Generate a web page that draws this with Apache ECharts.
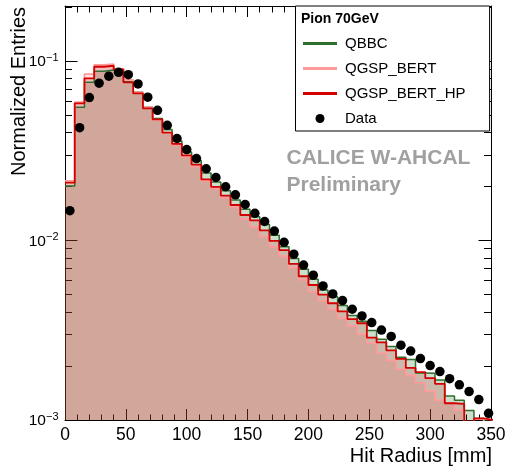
<!DOCTYPE html>
<html><head><meta charset="utf-8">
<script src="https://cdn.jsdelivr.net/npm/echarts@6/dist/echarts.min.js"></script>
<style>html,body{margin:0;padding:0;background:#fff}#c{width:507px;height:470px}</style>
</head><body><div id="c"></div><script>
const binCenters = [4,12,20,28,36,44,52,60,68,76,84,92,100,108,116,124,132,140,148,156,164,172,180,188,196,204,212,220,228,236,244,252,260,268,276,284,292,300,308,316,324,332,340,348];
const binWidth = 8;
const qbbc = [0.0201,0.0552,0.0761,0.0876,0.0891,0.0883,0.0767,0.0669,0.0552,0.0479,0.0415,0.0358,0.0311,0.0278,0.0238,0.0212,0.01894,0.01681,0.01492,0.01357,0.01228,0.01069,0.00924,0.00794,0.00691,0.00608,0.00530,0.00486,0.00434,0.00382,0.00355,0.00315,0.00282,0.00257,0.00224,0.00217,0.00183,0.00182,0.00167,0.00136,0.00129,0.00113,0.00102,0.00095];
const qgspBert = [0.0215,0.0589,0.0846,0.0950,0.0962,0.0903,0.0784,0.0669,0.0552,0.0469,0.0396,0.0340,0.0293,0.0258,0.0215,0.01953,0.01731,0.01531,0.01318,0.01189,0.01050,0.00924,0.00817,0.00705,0.00606,0.00519,0.00461,0.00414,0.00370,0.00334,0.00301,0.00268,0.00236,0.00215,0.00192,0.00177,0.00161,0.00145,0.00129,0.00124,0.00114,0.00090,0.00101,0.00090];
const qgspBertHp = [0.0210,0.0581,0.0801,0.0929,0.0941,0.0897,0.0761,0.0661,0.0545,0.0473,0.0399,0.0345,0.0298,0.0265,0.0219,0.0199,0.01777,0.01577,0.01387,0.01296,0.01140,0.00994,0.00885,0.00740,0.00632,0.00565,0.00500,0.00447,0.00403,0.00365,0.00346,0.00288,0.00271,0.00244,0.00219,0.00195,0.00185,0.00171,0.00159,0.00124,0.00123,0.00090,0.00102,0.00100];
const dataVals = [0.01466,0.0425,0.0626,0.0752,0.0823,0.0865,0.0839,0.0745,0.0629,0.0531,0.0438,0.0370,0.0321,0.0286,0.0251,0.02244,0.01993,0.01797,0.01587,0.01417,0.01276,0.01128,0.00977,0.00839,0.00730,0.00641,0.00558,0.00504,0.00463,0.00414,0.00380,0.00349,0.00317,0.00292,0.00261,0.00242,0.00220,0.00201,0.00186,0.00170,0.00157,0.00144,0.00130,0.00109];
const seriesNames = ['QBBC','QGSP_BERT','QGSP_BERT_HP','Data'];
const legendTitle = 'Pion 70GeV';
const xName = 'Hit Radius [mm]';
const yName = 'Normalized Entries';
const watermark = ['CALICE W-AHCAL','Preliminary'];

const FONT = '"Liberation Sans", Arial, Helvetica, sans-serif';
function stepData(vals){
  const out = binCenters.map((c,i)=>[c-binWidth/2, vals[i]]);
  out.push([binCenters[binCenters.length-1]+binWidth/2, vals[vals.length-1]]);
  return out;
}
const lineIcon = 'path://M0,0H34V3H0Z';
const colors = {
  qbbcLine:'#2e6e2e', qbbcFill:'rgba(5,90,5,0.2)',
  bertLine:'#ff9a9a', bertFill:'rgba(255,102,102,0.19)',
  hpLine:'#d40000', hpFill:'rgba(192,0,0,0.16)'
};
function yLabel(v){
  const e = Math.log10(v); const r = Math.round(e);
  if (Math.abs(e-r) > 1e-6) return '';
  return '{b|10}{s|' + (r<0?'\u2212':'') + Math.abs(r) + '}';
}
const xAxisBase = {type:'value', min:0, max:350, interval:50,
  axisLine:{show:true, onZero:false, lineStyle:{color:'#000', width:1}},
  axisTick:{show:true, inside:true, length:11, lineStyle:{color:'#000'}},
  minorTick:{show:true, splitNumber:5, length:5.5, lineStyle:{color:'#000'}},
  splitLine:{show:false}};
const yAxisBase = {type:'log', logBase:10, min:0.001, max:0.2025,
  axisLine:{show:true, onZero:false, lineStyle:{color:'#000', width:1}},
  axisTick:{show:true, inside:true, length:12.5, lineStyle:{color:'#000'}},
  minorTick:{show:true, splitNumber:9, length:7, lineStyle:{color:'#000'}},
  splitLine:{show:false}};

const chart = echarts.init(document.getElementById('c'), null, {renderer:'canvas'});
chart.setOption({
  animation:false,
  backgroundColor:'#fff',
  grid:{left:65, right:16, top:6, bottom:50, containLabel:false, outerBoundsMode:'none'},
  title:{text:legendTitle, left:301, top:12, padding:0, z:10,
    textStyle:{fontFamily:FONT, fontSize:14, fontWeight:'bold', color:'#000'}},
  legend:{orient:'vertical', left:295.5, top:6, padding:[30,24,5,7.5],
    itemWidth:34, itemHeight:9, itemGap:10, selectedMode:false,
    backgroundColor:'#fff', borderColor:'#000', borderWidth:1, borderRadius:0,
    textStyle:{fontFamily:FONT, fontSize:15, color:'#000', lineHeight:15, padding:[0,0,0,3]},
    itemStyle:{borderWidth:0},
    data:[
      {name:seriesNames[0], icon:lineIcon, itemStyle:{color:colors.qbbcLine}},
      {name:seriesNames[1], icon:lineIcon, itemStyle:{color:colors.bertLine}},
      {name:seriesNames[2], icon:lineIcon, itemStyle:{color:colors.hpLine}},
      {name:seriesNames[3], icon:'circle', itemStyle:{color:'#000'}}
    ]},
  xAxis:[
    Object.assign({}, xAxisBase, {position:'bottom',
      axisLabel:{show:true, margin:6, fontFamily:FONT, fontSize:17.5, color:'#000'},
      name:xName, nameLocation:'end', nameGap:1,
      nameTextStyle:{fontFamily:FONT, fontSize:20, color:'#000', align:'right', verticalAlign:'top', padding:[26,0,0,0]}}),
    Object.assign({}, xAxisBase, {position:'top', axisLabel:{show:false},
      minorTick:{show:true, splitNumber:5, length:6.5, lineStyle:{color:'#000'}}})
  ],
  yAxis:[
    Object.assign({}, yAxisBase, {position:'left',
      axisLabel:{show:true, margin:6.5, formatter:yLabel, showMaxLabel:false,
        rich:{b:{fontFamily:FONT, fontSize:15.5, color:'#000', lineHeight:18, verticalAlign:'bottom'},
              s:{fontFamily:FONT, fontSize:11, color:'#000', lineHeight:11, verticalAlign:'top'}}}}),
    Object.assign({}, yAxisBase, {position:'right', axisLabel:{show:false}})
  ],
  series:[
    {name:seriesNames[0], type:'line', step:'end', data:stepData(qbbc), symbol:'none', color:colors.qbbcLine,
      lineStyle:{color:colors.qbbcLine, width:1.5}, areaStyle:{color:colors.qbbcFill, origin:'start', opacity:1}, z:2},
    {name:seriesNames[1], type:'line', step:'end', data:stepData(qgspBert), symbol:'none', color:colors.bertLine,
      lineStyle:{color:colors.bertLine, width:1.8}, areaStyle:{color:colors.bertFill, origin:'start', opacity:1}, z:2},
    {name:seriesNames[2], type:'line', step:'end', data:stepData(qgspBertHp), symbol:'none', color:colors.hpLine,
      lineStyle:{color:colors.hpLine, width:1.8}, areaStyle:{color:colors.hpFill, origin:'start', opacity:1}, z:2},
    {name:seriesNames[3], type:'scatter', data:binCenters.map((c,i)=>[c,dataVals[i]]), symbol:'circle', symbolSize:9.5,
      itemStyle:{color:'#000', opacity:1}, color:'#000', z:5}
  ],
  graphic:[
    {type:'text', x:29, y:7, rotation:Math.PI/2, z:3, style:{text:yName, font:'20px "Liberation Sans", Arial, sans-serif', fill:'#000', align:'right', verticalAlign:'bottom'}},
    {type:'text', x:286.5, y:158.4, z:3, style:{text:watermark[0], font:'bold 21px "Liberation Sans", Arial, sans-serif', fill:'#a0a0a0', verticalAlign:'middle'}},
    {type:'text', x:286.5, y:185.4, z:3, style:{text:watermark[1], font:'bold 21px "Liberation Sans", Arial, sans-serif', fill:'#a0a0a0', verticalAlign:'middle'}}
  ]
});
</script></body></html>
